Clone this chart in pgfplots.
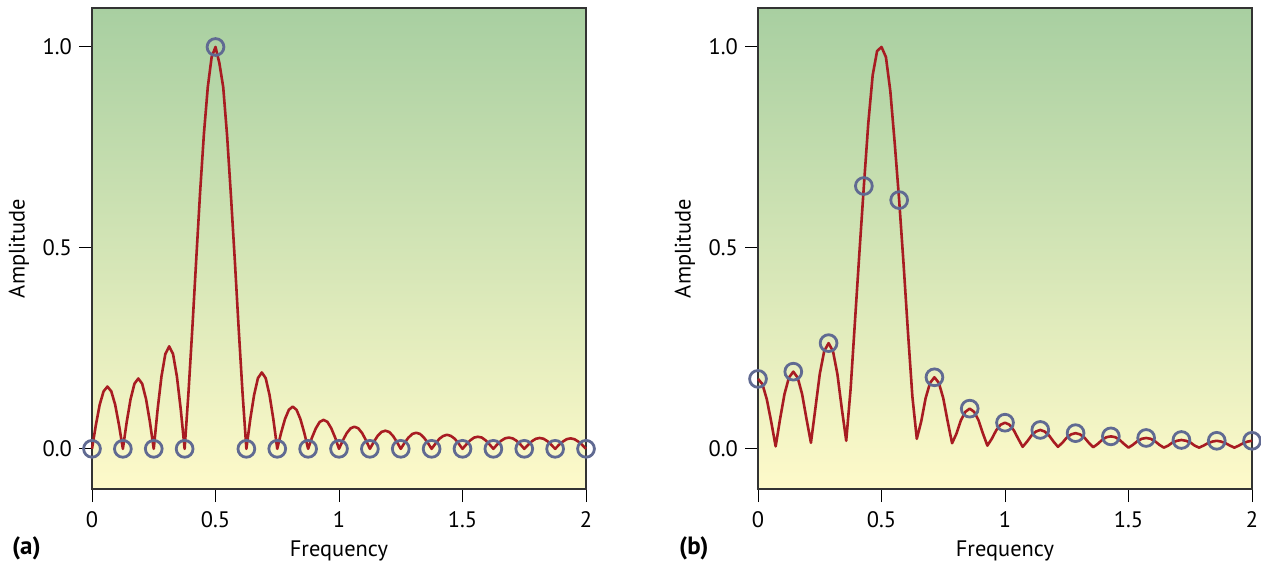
\documentclass[border=0pt]{standalone}
\usepackage{pgfplots}
\pgfplotsset{compat=1.18}
\usepackage{fontspec}
\setmainfont{PT Sans}
\definecolor{bgtop}{RGB}{168,207,161}
\definecolor{bgbot}{RGB}{254,250,202}
\definecolor{curve}{RGB}{168,28,34}
\definecolor{ring}{RGB}{96,106,146}
\pgfplotsset{
  panel/.style={
    scale only axis, width=247pt, height=240.5pt,
    ymin=-0.1, ymax=1.097,
    ytick={0,0.5,1}, yticklabels={0.0,0.5,1.0},
    tick pos=left, tick align=outside,
    major tick length=6.5pt,
    every tick/.style={black, line width=0.5pt},
    axis line style={line width=0.6pt, black!80},
    axis background/.style={shade, top color=bgtop, bottom color=bgbot},
    ticklabel style={font=\fontsize{11.2}{13}\selectfont},
    xticklabel style={yshift=-1pt},
    label style={font=\fontsize{11.2}{13}\selectfont},
    xlabel={Frequency}, ylabel={Amplitude},
    clip=false,
  },
  ringstyle/.style={only marks, mark=o, mark size=4.2pt, mark options={draw=ring, line width=1.4pt}},
  curvestyle/.style={curve, line width=1.3pt, line join=round, no marks},
}
\begin{document}
\begin{tikzpicture}
\useasboundingbox (-46pt,-37pt) rectangle (584.5pt,244.5pt);
\begin{axis}[panel, at={(0pt,0pt)}, anchor=south west,
  xmin=0, xmax=128, xtick={0,32,64,96,128}, xticklabels={0,0.5,1,1.5,2}]
\addplot[ringstyle] coordinates {(0,0) (8,0) (16,0) (24,0) (32,1.0) (40,0) (48,0) (56,0) (64,0) (72,0) (80,0) (88,0) (96,0) (104,0) (112,0) (120,0) (128,0)};
\addplot[curvestyle] table {
x y
0 0
1 0.059
2 0.110
3 0.143
4 0.155
5 0.143
6 0.110
7 0.059
8 0
9 0.067
10 0.124
11 0.162
12 0.175
13 0.162
14 0.124
15 0.067
16 0
17 0.098
18 0.180
19 0.236
20 0.255
21 0.236
22 0.180
23 0.098
24 0
25 0.14
26 0.30
27 0.47
28 0.637
29 0.784
30 0.90
31 0.975
32 1.0
33 0.96
34 0.90
35 0.78
36 0.63
37 0.47
38 0.30
39 0.14
40 0
41 0.073
42 0.134
43 0.176
44 0.19
45 0.176
46 0.134
47 0.073
48 0
49 0.040
50 0.074
51 0.097
52 0.105
53 0.097
54 0.074
55 0.040
56 0
57 0.028
58 0.051
59 0.067
60 0.072
61 0.067
62 0.051
63 0.028
64 0
65 0.021
66 0.039
67 0.051
68 0.055
69 0.051
70 0.039
71 0.021
72 0
73 0.017
74 0.032
75 0.042
76 0.045
77 0.042
78 0.032
79 0.017
80 0
81 0.015
82 0.028
83 0.037
84 0.040
85 0.037
86 0.028
87 0.015
88 0
89 0.013
90 0.025
91 0.032
92 0.035
93 0.032
94 0.025
95 0.013
96 0
97 0.011
98 0.021
99 0.028
100 0.030
101 0.028
102 0.021
103 0.011
104 0
105 0.011
106 0.020
107 0.026
108 0.028
109 0.026
110 0.020
111 0.011
112 0
113 0.010
114 0.019
115 0.025
116 0.027
117 0.025
118 0.019
119 0.010
120 0
121 0.010
122 0.018
123 0.024
124 0.026
125 0.024
126 0.018
127 0.010
128 0
};
\end{axis}
\begin{axis}[panel, at={(333pt,0pt)}, anchor=south west,
  xmin=0, xmax=112, xtick={0,28,56,84,112}, xticklabels={0,0.5,1,1.5,2}]
\addplot[curvestyle] table {
x y
0 0.174
1 0.161
2 0.123
3 0.067
4 0.006
5 0.074
6 0.136
7 0.177
8 0.192
9 0.177
10 0.136
11 0.074
12 0.015
13 0.10
14 0.186
15 0.243
16 0.263
17 0.243
18 0.186
19 0.10
20 0.02
21 0.15
22 0.32
23 0.49
24 0.654
25 0.81
26 0.93
27 0.99
28 1.0
29 0.975
30 0.89
31 0.76
32 0.619
33 0.46
34 0.29
35 0.13
36 0.025
37 0.068
38 0.126
39 0.164
40 0.178
41 0.164
42 0.126
43 0.068
44 0.014
45 0.038
46 0.071
47 0.092
48 0.100
49 0.092
50 0.071
51 0.038
52 0.008
53 0.025
54 0.046
55 0.060
56 0.065
57 0.060
58 0.046
59 0.025
60 0.005
61 0.018
62 0.033
63 0.043
64 0.047
65 0.043
66 0.033
67 0.018
68 0.005
69 0.015
70 0.028
71 0.036
72 0.039
73 0.036
74 0.028
75 0.015
76 0.004
77 0.012
78 0.022
79 0.029
80 0.031
81 0.029
82 0.022
83 0.012
84 0.003
85 0.010
86 0.019
87 0.025
88 0.027
89 0.025
90 0.019
91 0.010
92 0.003
93 0.008
94 0.016
95 0.020
96 0.022
97 0.020
98 0.016
99 0.008
100 0.003
101 0.008
102 0.014
103 0.018
104 0.020
105 0.018
106 0.014
107 0.008
108 0.003
109 0.008
110 0.014
111 0.018
112 0.020
};
\addplot[ringstyle] coordinates {(0,0.174) (8,0.192) (16,0.263) (24,0.654) (32,0.619) (40,0.178) (48,0.100) (56,0.065) (64,0.047) (72,0.039) (80,0.031) (88,0.027) (96,0.022) (104,0.020) (112,0.020)};
\end{axis}
\node[anchor=base west, font=\fontsize{12.5}{14}\selectfont\bfseries] at (-43.5pt,-32.5pt) {(a)};
\node[anchor=base west, font=\fontsize{12.5}{14}\selectfont\bfseries] at (290pt,-32.5pt) {(b)};
\end{tikzpicture}
\end{document}
